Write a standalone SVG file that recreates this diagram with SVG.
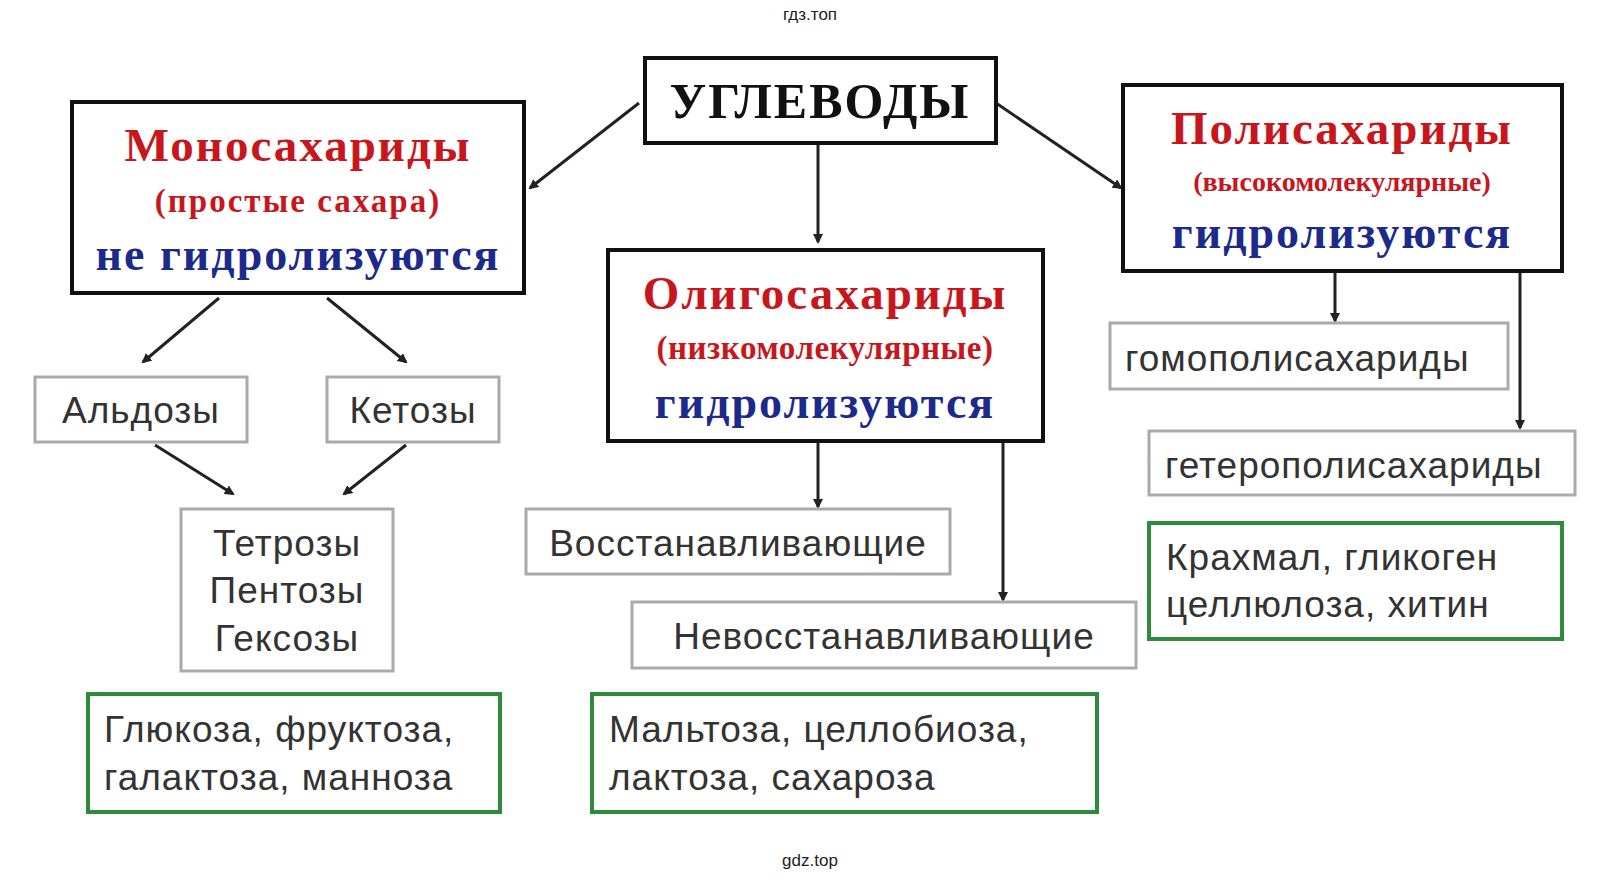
<svg xmlns="http://www.w3.org/2000/svg" width="1621" height="880" viewBox="0 0 1621 880">
<style>
.main{fill:#fff;stroke:#111;stroke-width:4}
.sub{fill:#fff;stroke:#aaa;stroke-width:3}
.grn{fill:#fff;stroke:#2e8b3c;stroke-width:4}
.h{font-family:"Liberation Serif",serif;font-weight:bold;text-anchor:middle;letter-spacing:2px}
.red{fill:#c8161d;font-size:47px}
.rs{fill:#c8161d;font-size:33px}
.blue{fill:#1c2a8c;font-size:46px}
.t{font-family:"Liberation Sans",Arial,sans-serif;font-size:37px;fill:#333;letter-spacing:1px}
.c line{stroke:#222;stroke-width:3;marker-end:url(#a)}
.w{font-family:"Liberation Sans",Arial,sans-serif;font-size:17px;fill:#222;text-anchor:middle}
</style>
<defs><marker id="a" markerWidth="10" markerHeight="10" refX="8" refY="5" orient="auto" markerUnits="userSpaceOnUse"><path d="M0,0 L10,5 L0,10 z" fill="#222"/></marker></defs>
<rect width="1621" height="880" fill="#fff"/>
<text class="w" x="810" y="20">гдз.топ</text>
<text class="w" x="810" y="866">gdz.top</text>
<g class="c">
<line x1="639" y1="103" x2="530" y2="188"/>
<line x1="996" y1="103" x2="1121" y2="188"/>
<line x1="818" y1="143" x2="818" y2="242"/>
<line x1="219" y1="298" x2="143" y2="362"/>
<line x1="327" y1="298" x2="406" y2="362"/>
<line x1="155" y1="445" x2="233" y2="494"/>
<line x1="406" y1="445" x2="344" y2="494"/>
<line x1="818" y1="441" x2="818" y2="507"/>
<line x1="1003" y1="441" x2="1003" y2="600"/>
<line x1="1335" y1="271" x2="1335" y2="321"/>
<line x1="1520" y1="271" x2="1520" y2="428"/>
</g>
<g id="root"><rect class="main" x="645" y="58" width="351" height="85"/><text class="h" x="820" y="118" style="font-size:50px;fill:#111">УГЛЕВОДЫ</text></g>
<g id="mono"><rect class="main" x="72" y="102" width="452" height="191"/>
<text class="h red" x="298" y="161">Моносахариды</text><text class="h rs" x="298" y="212">(простые сахара)</text><text class="h blue" x="298" y="270">не гидролизуются</text></g>
<g id="oligo"><rect class="main" x="608" y="250" width="435" height="191"/>
<text class="h red" x="825" y="309">Олигосахариды</text><text class="h rs" x="825" y="359" style="letter-spacing:0.5px">(низкомолекулярные)</text><text class="h blue" x="825" y="418">гидролизуются</text></g>
<g id="poly"><rect class="main" x="1123" y="85" width="439" height="186"/>
<text class="h red" x="1342" y="144">Полисахариды</text><text class="h" x="1342" y="191" style="fill:#c8161d;font-size:28px;letter-spacing:0">(высокомолекулярные)</text><text class="h blue" x="1342" y="248">гидролизуются</text></g>
<g id="ald"><rect class="sub" x="35" y="377" width="212" height="65"/><text class="t" x="141" y="423" text-anchor="middle">Альдозы</text></g>
<g id="ket"><rect class="sub" x="327" y="377" width="172" height="65"/><text class="t" x="413" y="423" text-anchor="middle">Кетозы</text></g>
<g id="tetr"><rect class="sub" x="181" y="509" width="212" height="162"/><text class="t" x="287" y="556" text-anchor="middle">Тетрозы</text><text class="t" x="287" y="603" text-anchor="middle">Пентозы</text><text class="t" x="287" y="651" text-anchor="middle">Гексозы</text></g>
<g id="glu"><rect class="grn" x="88" y="694" width="412" height="118"/><text class="t" x="104" y="742">Глюкоза, фруктоза,</text><text class="t" x="104" y="790">галактоза, манноза</text></g>
<g id="vos"><rect class="sub" x="526" y="509" width="424" height="65"/><text class="t" x="738" y="556" text-anchor="middle">Восстанавливающие</text></g>
<g id="nevos"><rect class="sub" x="632" y="602" width="504" height="66"/><text class="t" x="884" y="649" text-anchor="middle">Невосстанавливающие</text></g>
<g id="malt"><rect class="grn" x="592" y="694" width="505" height="118"/><text class="t" x="609" y="742">Мальтоза, целлобиоза,</text><text class="t" x="609" y="790">лактоза, сахароза</text></g>
<g id="homo"><rect class="sub" x="1110" y="323" width="398" height="66"/><text class="t" x="1125" y="371">гомополисахариды</text></g>
<g id="hetero"><rect class="sub" x="1149" y="431" width="426" height="64"/><text class="t" x="1165" y="478">гетерополисахариды</text></g>
<g id="krah"><rect class="grn" x="1149" y="523" width="413" height="116"/><text class="t" x="1166" y="570">Крахмал, гликоген</text><text class="t" x="1166" y="617">целлюлоза, хитин</text></g>
</svg>
